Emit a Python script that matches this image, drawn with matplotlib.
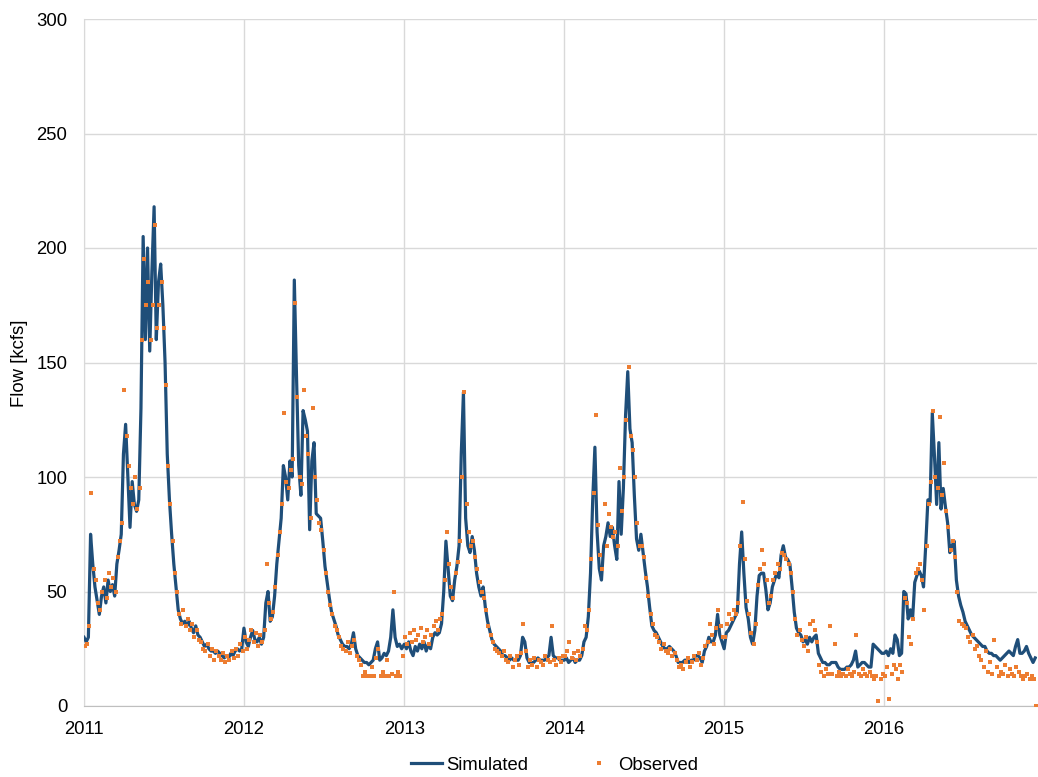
import matplotlib
matplotlib.use("Agg")
import matplotlib.pyplot as plt
from matplotlib.lines import Line2D
import pandas as pd

# ---- data (kcfs), sampled every 5 days from Jan 1 of each year ----
years = [2011, 2012, 2013, 2014, 2015, 2016]

sim_2011 = [30,28,30,75,62,52,46,40,48,52, 45,55,50,53,48,62,68,75,110,123,
            100,78,98,88,85,90,130,205,160,200, 155,190,218,160,185,193,175,150,110,90,
            75,62,52,42,38,36,37,35,37,34, 32,35,31,30,28,26,27,25,24,24,
            23,24,23,22,21,22,21,23,22,24, 25,24,25]
obs_2011 = [26,27,35,93,60,55,45,42,50,55, 47,58,52,56,50,65,72,80,138,118,
            105,95,88,100,86,95,160,195,175,185, 160,175,210,165,175,185,165,140,105,88,
            72,58,50,40,36,42,35,38,33,36, 30,33,29,28,25,24,27,22,25,20,
            24,22,20,23,19,22,20,24,21,25, 22,27,24]

sim_2012 = [34,28,26,30,33,29,28,30,27,30, 45,50,37,39,48,62,72,82,105,100,
            90,107,100,186,144,105,92,129,125,120, 77,107,115,84,83,82,72,61,54,47,
            41,38,35,31,29,27,26,26,25,27, 32,25,22,21,20,19,19,18,19,20,
            25,28,20,21,23,22,24,30,42,30, 26,27,25]
obs_2012 = [30,25,29,33,28,32,26,31,28,33, 62,45,38,41,52,66,76,88,128,98,
            95,103,108,176,135,100,97,138,118,110, 82,130,100,90,80,77,68,58,50,44,
            40,35,33,30,26,25,24,28,23,26, 29,22,20,18,13,15,13,13,17,13,
            21,25,13,15,13,20,13,14,50,13, 15,13,22]

sim_2013 = [27,25,28,24,22,26,24,27,25,28, 24,27,25,30,32,31,32,36,50,72,
            60,48,46,55,61,70,110,137,82,70, 67,74,68,58,52,48,52,43,37,33,
            29,27,26,25,24,22,22,21,20,21, 20,20,20,22,30,28,21,19,19,19,
            20,21,20,20,20,21,22,30,22,21, 21,20,20]
obs_2013 = [30,27,32,28,33,29,31,34,28,30, 33,27,31,35,37,33,38,40,55,76,
            62,52,47,58,63,72,100,137,88,76, 70,72,65,60,54,50,47,42,35,31,
            28,25,24,23,22,24,20,19,22,17, 20,22,18,23,36,24,17,20,18,21,
            17,20,19,18,22,20,19,35,20,18, 21,19,22]

sim_2014 = [20,21,19,20,21,19,20,20,22,28, 30,39,58,90,113,76,60,55,70,74,
            80,74,78,70,64,98,75,95,127,146, 121,115,92,73,68,75,67,59,52,43,
            35,33,32,30,28,26,25,25,26,25, 24,22,19,19,19,20,20,19,20,20,
            22,22,21,19,24,26,30,28,28,31, 40,31,28]
obs_2014 = [22,24,28,21,23,20,24,22,25,35, 33,42,64,93,127,79,66,60,88,70,
            84,78,74,76,70,104,85,100,125,148, 118,112,100,80,70,70,65,56,48,40,
            36,31,30,28,25,27,24,23,25,22, 23,20,17,18,16,19,21,17,19,22,
            20,23,18,21,26,28,36,31,27,34, 42,35,30]

sim_2015 = [25,32,33,35,37,39,41,62,76,58, 43,38,30,27,33,48,57,58,58,51,
            42,45,52,55,58,56,66,70,65,64, 62,52,41,34,32,31,28,29,27,30,
            28,30,31,23,21,19,19,18,18,19, 19,19,17,16,16,16,17,17,18,20,
            24,17,18,19,19,18,17,17,27,26, 25,24,23]
obs_2015 = [30,36,40,38,42,40,45,70,89,64, 46,40,32,27,36,53,60,68,62,55,
            45,48,55,58,62,60,67,66,64,62, 58,50,38,31,33,29,26,30,24,36,
            37,33,28,18,15,13,16,14,35,14, 27,13,15,13,14,13,16,14,13,15,
            31,14,13,16,14,13,15,13,12,13, 2,12,14]

sim_2016 = [23,24,22,25,23,31,29,22,23,50, 49,38,42,38,54,57,59,57,52,70,
            90,89,128,109,88,115,86,95,87,80, 67,70,72,55,48,44,41,37,35,33,
            31,30,29,28,27,26,26,24,23,23, 22,22,21,20,21,22,23,24,23,22,
            26,29,23,23,24,26,23,21,19,21]
obs_2016 = [13,17,3,14,18,16,12,18,15,47, 45,30,27,38,58,60,62,55,42,70,
            88,98,129,100,95,126,92,106,85,78, 68,72,65,50,37,36,35,34,30,28,
            31,25,26,22,20,17,24,15,19,14, 29,17,13,15,14,18,13,16,14,13,
            17,15,13,12,13,14,12,13,12,0]

sim_series = [sim_2011, sim_2012, sim_2013, sim_2014, sim_2015, sim_2016]
obs_series = [obs_2011, obs_2012, obs_2013, obs_2014, obs_2015, obs_2016]
y_ticks = [0, 50, 100, 150, 200, 250, 300]
x_labels = ["2011", "2012", "2013", "2014", "2015", "2016"]

def year_dates(year, n, offset_days):
    start = pd.Timestamp(f"{year}-01-01") + pd.Timedelta(days=offset_days)
    return pd.date_range(start, periods=n, freq="5D")

sim_x = pd.DatetimeIndex([]).append([year_dates(y, len(v), 0) for y, v in zip(years, sim_series)])
sim_y = [v for s in sim_series for v in s]
obs_x = pd.DatetimeIndex([]).append([year_dates(y, len(v), 2) for y, v in zip(years, obs_series)])
obs_y = [v for s in obs_series for v in s]

plt.rcParams["font.family"] = ["Liberation Sans", "DejaVu Sans"]
BLUE = "#1F4E79"
ORANGE = "#ED7D31"
GRID = "#D9D9D9"
FS = 13.3

fig = plt.figure(figsize=(10.38, 7.77), dpi=100)
W, H = 1038, 777
ax = fig.add_axes([84 / W, 1 - 706 / H, (1037 - 84) / W, (706 - 19) / H])

ax.plot(sim_x, sim_y, color=BLUE, lw=2.3, solid_joinstyle="round", zorder=3)
ax.plot(obs_x, obs_y, linestyle="none", marker="s", markersize=2.8,
        markerfacecolor=ORANGE, markeredgewidth=0, color=ORANGE, zorder=4)

ax.set_ylim(0, 300)
ax.set_yticks(y_ticks)
ax.set_xlim(pd.Timestamp("2011-01-01"), pd.Timestamp("2016-12-15"))
ax.set_xticks([pd.Timestamp(f"{y}-01-01") for y in years])
ax.set_xticklabels(x_labels)

ax.grid(True, color=GRID, lw=1)
ax.set_axisbelow(True)
for s in ["top", "right"]:
    ax.spines[s].set_visible(False)
ax.spines["left"].set_color(GRID)
ax.spines["bottom"].set_color("#BFBFBF")
ax.tick_params(axis="both", length=0, labelsize=FS, colors="#000000")
ax.tick_params(axis="y", pad=12)
ax.tick_params(axis="x", pad=11)

fig.text(20 / W, 1 - 363 / H, "Flow [kcfs]", rotation=90, ha="center", va="center", fontsize=FS)

h1 = Line2D([], [], color=BLUE, lw=2.3)
h2 = Line2D([], [], linestyle="none", marker="s", markersize=2.8,
            markerfacecolor=ORANGE, markeredgewidth=0)
fig.legend(handles=[h1], labels=["Simulated"], loc="center left",
           bbox_to_anchor=(411 / W, 1 - 765 / H), frameon=False, fontsize=FS,
           handlelength=1.68, handletextpad=0.2, borderpad=0, borderaxespad=0)
fig.legend(handles=[h2], labels=["Observed"], loc="center left",
           bbox_to_anchor=(583 / W, 1 - 765 / H), frameon=False, fontsize=FS,
           handlelength=1.68, handletextpad=0.2, borderpad=0, borderaxespad=0)

fig.savefig("out.png", dpi=100)
